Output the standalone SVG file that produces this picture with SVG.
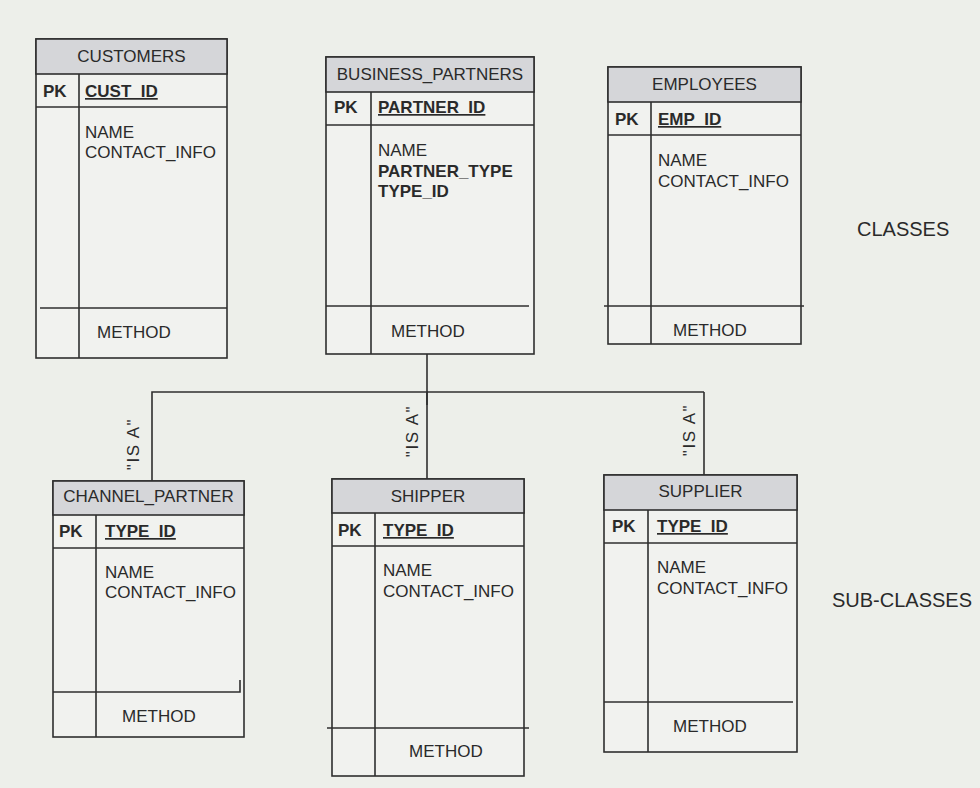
<svg xmlns="http://www.w3.org/2000/svg" width="980" height="788" viewBox="0 0 980 788">
<style>
  .bg{fill:#edefea}
  .box{fill:#f1f2ef;stroke:#2f2f2f;stroke-width:1.6}
  .hdr{fill:#d5d6d9;stroke:#2f2f2f;stroke-width:1.6}
  .ln{stroke:#2f2f2f;stroke-width:1.6;fill:none}
  .t{font-family:"Liberation Sans",Arial,sans-serif;font-size:17px;fill:#2a2a2a}
  .b{font-weight:bold}
  .u{text-decoration:underline}
  .c{text-anchor:middle}
  .lbl{font-family:"Liberation Sans",Arial,sans-serif;font-size:20px;fill:#2a2a2a}
  .isa{font-family:"Liberation Sans",Arial,sans-serif;font-size:17px;fill:#2a2a2a;text-anchor:middle;letter-spacing:1.5px}
</style>
<rect class="bg" x="0" y="0" width="980" height="788"/>

<g id="connectors">
  <line class="ln" x1="427" y1="354" x2="427" y2="479" stroke-width="1"/>
  <line class="ln" x1="427" y1="392" x2="704" y2="392" stroke-width="1"/>
  <line class="ln" x1="704" y1="392" x2="704" y2="475" stroke-width="1"/>
  <path class="ln" d="M152,481 L152,392 L427,392 L427,405" stroke-width="2.4"/>
  <text class="isa" transform="translate(139,444) rotate(-90)">"IS A"</text>
  <text class="isa" transform="translate(418,431) rotate(-90)">"IS A"</text>
  <text class="isa" transform="translate(695,430) rotate(-90)">"IS A"</text>
</g>

<g id="customers">
  <rect class="box" x="36" y="39" width="191" height="319"/>
  <rect class="hdr" x="36" y="39" width="191" height="35"/>
  <line class="ln" x1="36" y1="107" x2="227" y2="107"/>
  <line class="ln" x1="79" y1="74" x2="79" y2="358"/>
  <line class="ln" x1="40" y1="308" x2="227" y2="308"/>
  <text class="t c" x="131.5" y="62">CUSTOMERS</text>
  <text class="t b" x="43" y="97">PK</text>
  <text class="t b u" x="85" y="97">CUST_ID</text>
  <text class="t" x="85" y="138">NAME</text>
  <text class="t" x="85" y="158">CONTACT_INFO</text>
  <text class="t" x="97" y="338">METHOD</text>
</g>

<g id="business_partners">
  <rect class="box" x="326" y="57" width="208" height="297"/>
  <rect class="hdr" x="326" y="57" width="208" height="35"/>
  <line class="ln" x1="326" y1="125" x2="534" y2="125"/>
  <line class="ln" x1="371" y1="92" x2="371" y2="354"/>
  <line class="ln" x1="326" y1="306" x2="529" y2="306"/>
  <text class="t c" x="430" y="80">BUSINESS_PARTNERS</text>
  <text class="t b" x="334" y="113">PK</text>
  <text class="t b u" x="378" y="113">PARTNER_ID</text>
  <text class="t" x="378" y="156">NAME</text>
  <text class="t b" x="378" y="177">PARTNER_TYPE</text>
  <text class="t b" x="378" y="197">TYPE_ID</text>
  <text class="t" x="391" y="337">METHOD</text>
</g>

<g id="employees">
  <rect class="box" x="608" y="67" width="193" height="277"/>
  <rect class="hdr" x="608" y="67" width="193" height="35"/>
  <line class="ln" x1="608" y1="135" x2="801" y2="135"/>
  <line class="ln" x1="651" y1="102" x2="651" y2="344"/>
  <line class="ln" x1="604" y1="306" x2="804" y2="306"/>
  <text class="t c" x="704.5" y="90">EMPLOYEES</text>
  <text class="t b" x="615" y="125">PK</text>
  <text class="t b u" x="658" y="125">EMP_ID</text>
  <text class="t" x="658" y="166">NAME</text>
  <text class="t" x="658" y="187">CONTACT_INFO</text>
  <text class="t" x="673" y="336">METHOD</text>
</g>

<g id="channel_partner">
  <rect class="box" x="53" y="481" width="191" height="256"/>
  <rect class="hdr" x="53" y="481" width="191" height="34"/>
  <line class="ln" x1="53" y1="548" x2="244" y2="548"/>
  <line class="ln" x1="96" y1="515" x2="96" y2="737"/>
  <path class="ln" d="M53,692 L240,692 L240,680" stroke-width="1.2"/>
  <text class="t c" x="148.5" y="502">CHANNEL_PARTNER</text>
  <text class="t b" x="59" y="537">PK</text>
  <text class="t b u" x="105" y="537">TYPE_ID</text>
  <text class="t" x="105" y="578">NAME</text>
  <text class="t" x="105" y="598">CONTACT_INFO</text>
  <text class="t" x="122" y="722">METHOD</text>
</g>

<g id="shipper">
  <rect class="box" x="332" y="479" width="192" height="297"/>
  <rect class="hdr" x="332" y="479" width="192" height="34"/>
  <line class="ln" x1="332" y1="546" x2="524" y2="546"/>
  <line class="ln" x1="375" y1="513" x2="375" y2="776"/>
  <line class="ln" x1="327" y1="728" x2="529" y2="728"/>
  <text class="t c" x="428" y="502">SHIPPER</text>
  <text class="t b" x="338" y="536">PK</text>
  <text class="t b u" x="383" y="536">TYPE_ID</text>
  <text class="t" x="383" y="576">NAME</text>
  <text class="t" x="383" y="597">CONTACT_INFO</text>
  <text class="t" x="409" y="757">METHOD</text>
</g>

<g id="supplier">
  <rect class="box" x="604" y="475" width="193" height="277"/>
  <rect class="hdr" x="604" y="475" width="193" height="35"/>
  <line class="ln" x1="604" y1="543" x2="797" y2="543"/>
  <line class="ln" x1="648" y1="510" x2="648" y2="752"/>
  <line class="ln" x1="604" y1="702" x2="793" y2="702"/>
  <text class="t c" x="700.5" y="497">SUPPLIER</text>
  <text class="t b" x="612" y="532">PK</text>
  <text class="t b u" x="657" y="532">TYPE_ID</text>
  <text class="t" x="657" y="573">NAME</text>
  <text class="t" x="657" y="594">CONTACT_INFO</text>
  <text class="t" x="673" y="732">METHOD</text>
</g>

<g id="labels">
  <text class="lbl" x="857" y="236">CLASSES</text>
  <text class="lbl" x="832" y="607">SUB-CLASSES</text>
</g>
</svg>
